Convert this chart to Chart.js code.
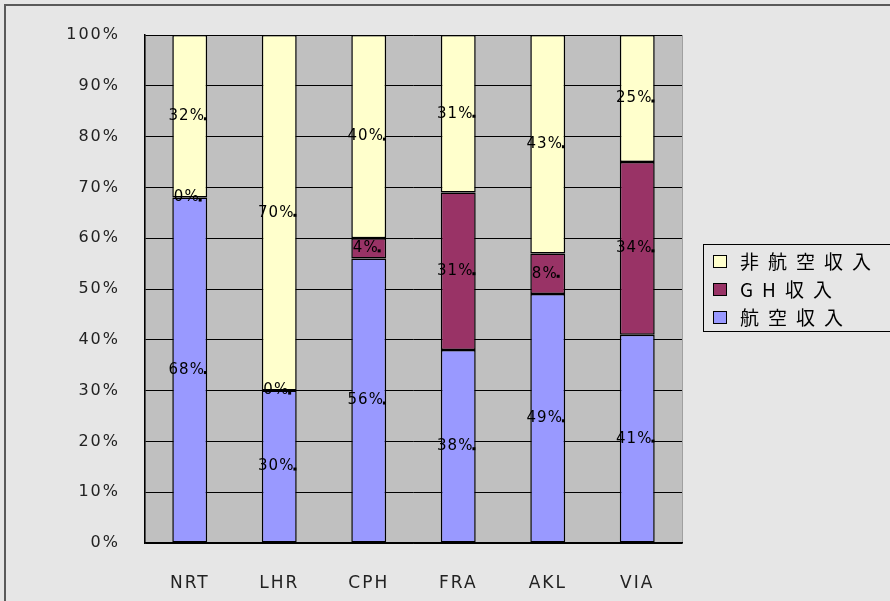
<!DOCTYPE html>
<html>
<head>
<meta charset="utf-8">
<script src="https://cdn.jsdelivr.net/npm/chart.js@4"></script>
<style>
  html, body { margin: 0; padding: 0; background: #e6e6e6; }
  #wrap { width: 890px; height: 601px; }
</style>
</head>
<body>
<div id="wrap"><canvas id="myChart" width="890" height="601"></canvas></div>
<script>
// airports and revenue shares (%)
const airports = ['NRT', 'LHR', 'CPH', 'FRA', 'AKL', 'VIA'];
const aeroRevenue = [68, 30, 56, 38, 49, 41];      // 航空収入
const ghRevenue = [0, 0, 4, 31, 8, 34];            // GH収入
const nonAeroRevenue = [32, 70, 40, 31, 43, 25];   // 非航空収入
const seriesNames = ['航空収入', 'GH収入', '非航空収入'];
const yTicks = [0, 10, 20, 30, 40, 50, 60, 70, 80, 90, 100];

const colors = ['#9999ff', '#993366', '#ffffcc'];

// background, plot area and outer frame
const backdrop = {
    id: 'backdrop',
    beforeDraw(chart) {
        const ctx = chart.ctx;
        const a = chart.chartArea;
        ctx.save();
        ctx.fillStyle = '#e6e6e6';
        ctx.fillRect(0, 0, chart.width, chart.height);
        ctx.fillStyle = '#c0c0c0';
        ctx.fillRect(a.left, a.top, a.right - a.left, a.bottom - a.top);
        ctx.strokeStyle = '#a0a0a0';
        ctx.lineWidth = 1;
        ctx.strokeRect(a.left + 0.5, a.top + 0.5, a.right - a.left, a.bottom - a.top);
        ctx.strokeStyle = '#5a5a5a';
        ctx.lineWidth = 2;
        ctx.strokeRect(5, 5, chart.width + 20, chart.height + 20);
        ctx.restore();
        ctx.letterSpacing = '2px';
    }
};

// value labels in the middle of every segment
const segLabels = {
    id: 'segLabels',
    afterDatasetsDraw(chart) {
        const ctx = chart.ctx;
        ctx.save();
        ctx.letterSpacing = '1px';
        ctx.font = '15px "DejaVu Sans"';
        ctx.fillStyle = '#000';
        ctx.textAlign = 'center';
        ctx.textBaseline = 'middle';
        chart.data.datasets.forEach((ds, i) => {
            chart.getDatasetMeta(i).data.forEach((el, j) => {
                const txt = ds.data[j] + '%';
                const x = el.x - 3;
                const y = (el.y + el.base) / 2;
                ctx.fillText(txt, x, y);
                const w = ctx.measureText(txt).width;
                ctx.fillRect(x + w / 2 - 1, y + 1, 3, 3);
            });
        });
        ctx.restore();
    }
};

// boxed legend on the right, top series first
const boxLegend = {
    id: 'boxLegend',
    afterDraw(chart) {
        const ctx = chart.ctx;
        ctx.save();
        ctx.letterSpacing = '0px';
        ctx.strokeStyle = '#000';
        ctx.lineWidth = 1;
        ctx.strokeRect(703.5, 244.5, 200, 87);
        ctx.font = '19px "Noto Sans CJK JP"';
        ctx.textBaseline = 'middle';
        const order = [2, 1, 0];
        order.forEach((i, k) => {
            const y = 262 + k * 28;
            ctx.fillStyle = colors[i];
            ctx.fillRect(713.5, y - 6.5, 13, 12);
            ctx.strokeRect(713.5, y - 6.5, 13, 12);
            ctx.fillStyle = '#000';
            ctx.letterSpacing = '9px';
            ctx.fillText(chart.data.datasets[i].label, 740, y);
        });
        ctx.restore();
    }
};

const ctx = document.getElementById('myChart').getContext('2d');
new Chart(ctx, {
    type: 'bar',
    data: {
        labels: airports,
        datasets: [
            { label: seriesNames[0], data: aeroRevenue, backgroundColor: colors[0] },
            { label: seriesNames[1], data: ghRevenue, backgroundColor: colors[1] },
            { label: seriesNames[2], data: nonAeroRevenue, backgroundColor: colors[2] }
        ].map(d => Object.assign(d, {
            borderColor: '#000',
            borderWidth: 1.5,
            borderSkipped: false,
            categoryPercentage: 1,
            barPercentage: 0.39
        }))
    },
    options: {
        responsive: false,
        animation: false,
        layout: { padding: { left: 0, top: 35, right: 208, bottom: 0 } },
        plugins: {
            legend: { display: false },
            tooltip: { enabled: false }
        },
        scales: {
            x: {
                stacked: true,
                grid: { display: false },
                border: { color: '#000', width: 1.5 },
                ticks: {
                    color: '#222',
                    padding: 22,
                    font: { family: 'DejaVu Sans', size: 17 }
                },
                afterFit(scale) { scale.height = 58; }
            },
            y: {
                stacked: true,
                min: 0,
                max: 100,
                afterBuildTicks(scale) { scale.ticks = yTicks.map(v => ({ value: v })); },
                grid: { color: '#000', lineWidth: 1, drawTicks: false },
                border: { color: '#000', width: 1.5 },
                ticks: {
                    color: '#222',
                    padding: 25,
                    font: { family: 'DejaVu Sans', size: 16 },
                    callback: v => v + '%'
                },
                afterFit(scale) { scale.width = 145; }
            }
        }
    },
    plugins: [backdrop, segLabels, boxLegend]
});
</script>
</body>
</html>
